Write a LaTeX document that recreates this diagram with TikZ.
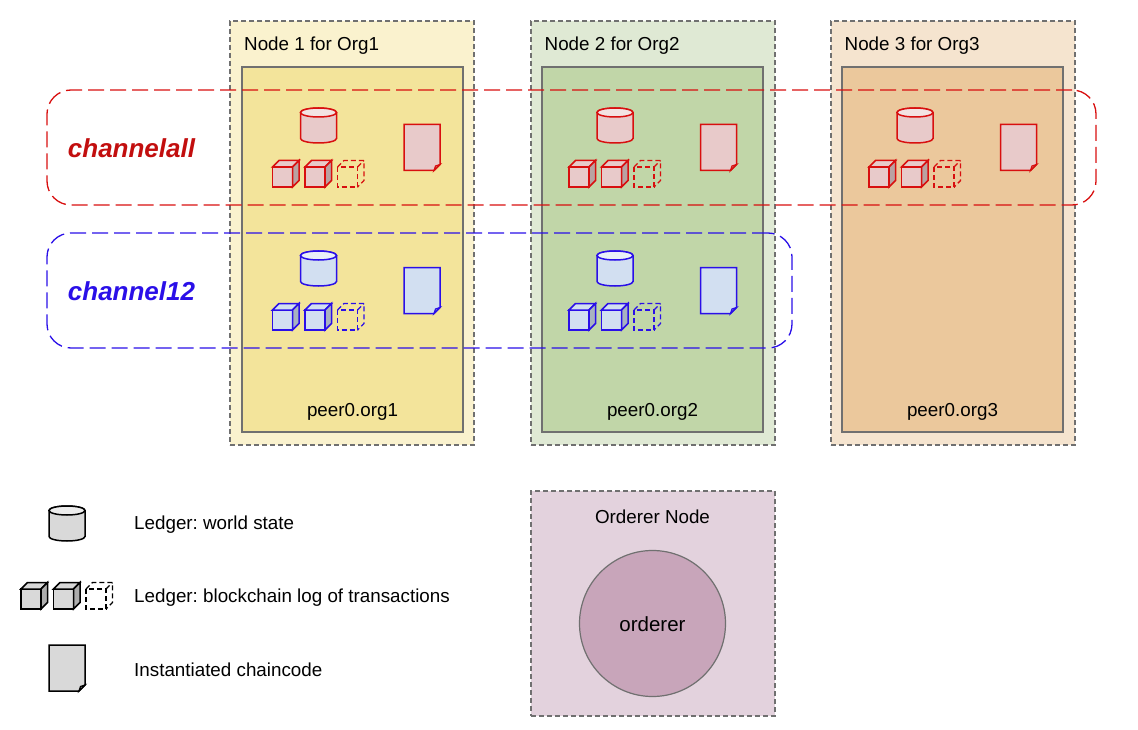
\documentclass[tikz,border=0pt]{standalone}
\usepackage{fontspec}
\setmainfont{Liberation Sans}
\usetikzlibrary{shapes}
\frenchspacing

\definecolor{orgA}{HTML}{FAF2CE}
\definecolor{peerA}{HTML}{F3E49B}
\definecolor{orgB}{HTML}{DFE9D4}
\definecolor{peerB}{HTML}{C1D6A8}
\definecolor{orgC}{HTML}{F5E4CF}
\definecolor{peerC}{HTML}{EBC89C}
\definecolor{ordbox}{HTML}{E3D2DD}
\definecolor{ordcirc}{HTML}{C8A5BA}
\definecolor{chred}{HTML}{D80F0F}
\definecolor{chblue}{HTML}{2A0FE8}
\definecolor{framegray}{HTML}{707070}
\definecolor{redfill}{HTML}{E8CACA}
\definecolor{redtop}{HTML}{F3E3E3}
\definecolor{redside}{HTML}{B9A2A2}
\definecolor{bluefill}{HTML}{D2DFF1}
\definecolor{bluetop}{HTML}{E9EFF8}
\definecolor{blueside}{HTML}{A8B2C0}
\definecolor{grayfill}{HTML}{D9D9D9}
\definecolor{graytop}{HTML}{ECECEC}
\definecolor{grayside}{HTML}{ADADAD}

\tikzset{
  orgbox/.style={rectangle, draw=framegray, dash pattern=on 5pt off 3pt, line width=1.2pt, minimum width=244pt, inner sep=0pt},
  peerbox/.style={rectangle, draw=framegray, line width=1.2pt, minimum width=221pt, minimum height=365pt, inner sep=0pt},
  channel/.style={rectangle, rounded corners=24pt, line width=1.3pt, dash pattern=on 16pt off 6pt, inner sep=0pt, minimum height=115pt},
  chlabel/.style={font=\fontsize{26}{30}\selectfont\bfseries\itshape},
  txt/.style={font=\fontsize{18.8}{22}\selectfont, inner sep=0pt},
  % ledger cylinder
  pics/worldstate/.style n args={3}{code={
    \draw[line width=1.5pt, draw=#1, fill=#2] (0,4.5) -- (0,30.5) arc[start angle=180, end angle=360, x radius=18pt, y radius=4.5pt] -- (36,4.5) arc[start angle=0, end angle=-180, x radius=18pt, y radius=-4.5pt] -- cycle;
    \draw[line width=1.5pt, draw=#1, fill=#3] (18,4.5) ellipse[x radius=18pt, y radius=4.5pt];
  }},
  % one block
  pics/block/.style n args={3}{code={
    \draw[line width=1.5pt, draw=#1, fill=#2] (0,6.5) rectangle (20,26.5);
    \draw[line width=1.5pt, draw=#1, fill=#2] (0,6.5) -- (6.5,0) -- (26.5,0) -- (20,6.5) -- cycle;
    \draw[line width=1.5pt, draw=#1, fill=#3] (20,6.5) -- (26.5,0) -- (26.5,20) -- (20,26.5) -- cycle;
  }},
  pics/emptyblock/.style={code={
    \draw[line width=1.4pt, draw=#1, dash pattern=on 5pt off 3pt] (0,6.5) rectangle (20,26.5);
    \draw[line width=1.4pt, draw=#1, dash pattern=on 5pt off 3pt] (0,6.5) -- (6.5,0) -- (26.5,0) -- (26.5,20) -- (20,26.5) (20,6.5) -- (26.5,0);
  }},
  % chaincode sheet
  pics/chaincode/.style n args={3}{code={
    \draw[line width=1.5pt, draw=#1, fill=#2] (0,0) -- (36,0) -- (36,40) -- (30,46) -- (0,46) -- cycle;
    \draw[line width=1.2pt, draw=#1, fill=#3] (36,40) -- (31.5,41.5) -- (30,46) -- cycle;
  }},
}

% \blockrow{x}{y}{line}{fill}{side}
\newcommand{\blockrow}[5]{
  \pic at (#1,#2) {block={#3}{#4}{#5}};
  \pic at (#1+32.5,#2) {block={#3}{#4}{#5}};
  \pic at (#1+65,#2) {emptyblock=#3};
}
% \ledgergroup{dx}{dy}{line}{fill}{lid}{side}
\newcommand{\ledgergroup}[6]{
  \pic at (300.5+#1,108+#2) {worldstate={#3}{#4}{#5}};
  \blockrow{272.5+#1}{160.5+#2}{#3}{#4}{#6}
  \pic at (404+#1,124.5+#2) {chaincode={#3}{#4}{#6}};
}

\begin{document}
\begin{tikzpicture}[x=1pt, y=-1pt]
  \useasboundingbox (0,0) rectangle (1138,730);

  % Node boxes
  \node[orgbox, fill=orgA, minimum height=424pt] (org1) at (352,233) {};
  \node[orgbox, fill=orgB, minimum height=424pt] (org2) at (653,233) {};
  \node[orgbox, fill=orgC, minimum height=424pt] (org3) at (953,233) {};
  \node[peerbox, fill=peerA] (peer1) at (352.5,249.5) {};
  \node[peerbox, fill=peerB] (peer2) at (652.5,249.5) {};
  \node[peerbox, fill=peerC] (peer3) at (952.5,249.5) {};
  \node[txt, anchor=west] (title1) at (244,45.5) {Node 1 for Org1};
  \node[txt, anchor=west] (title2) at (544.5,45.5) {Node 2 for Org2};
  \node[txt, anchor=west] (title3) at (844.5,45.5) {Node 3 for Org3};
  \node[txt] (name1) at (352.5,411.5) {peer0.org1};
  \node[txt] (name2) at (652.5,411.5) {peer0.org2};
  \node[txt] (name3) at (952.5,411.5) {peer0.org3};

  % Ledgers
  \ledgergroup{0}{0}{chred}{redfill}{redtop}{redside}
  \ledgergroup{296.5}{0}{chred}{redfill}{redtop}{redside}
  \ledgergroup{596.5}{0}{chred}{redfill}{redtop}{redside}
  \ledgergroup{0}{143}{chblue}{bluefill}{bluetop}{blueside}
  \ledgergroup{296.5}{143}{chblue}{bluefill}{bluetop}{blueside}

  % Channels
  \node[channel, draw=chred, minimum width=1049pt] (chall) at (571.5,147.5) {};
  \node[channel, draw=chblue, minimum width=745pt] (ch12) at (419.5,290.5) {};
  \node[chlabel, text=chred!90!black] (challtxt) at (131.5,148) {channelall};
  \node[chlabel, text=chblue] (ch12txt) at (131.5,291) {channel12};

  % Orderer
  \node[orgbox, fill=ordbox, minimum height=225pt] (ordnode) at (653,603.5) {};
  \node[circle, draw=framegray, line width=1.2pt, fill=ordcirc, minimum size=146pt, inner sep=0pt] (ord) at (652.5,623.5) {};
  \node[txt] (ordtitle) at (652.5,516.5) {Orderer Node};
  \node[txt, font=\fontsize{20.5}{24}\selectfont] (ordname) at (652.5,624.5) {orderer};

  % Legend
  \pic at (49,506) {worldstate={black}{grayfill}{graytop}};
  \blockrow{21}{582.5}{black}{grayfill}{grayside}
  \pic at (49,645) {chaincode={black}{grayfill}{grayside}};
  \node[txt, anchor=west] (leg1) at (134,525) {Ledger: world state};
  \node[txt, anchor=west] (leg2) at (134,598) {Ledger: blockchain log of transactions};
  \node[txt, anchor=west] (leg3) at (134,669.5) {Instantiated chaincode};
\end{tikzpicture}
\end{document}
